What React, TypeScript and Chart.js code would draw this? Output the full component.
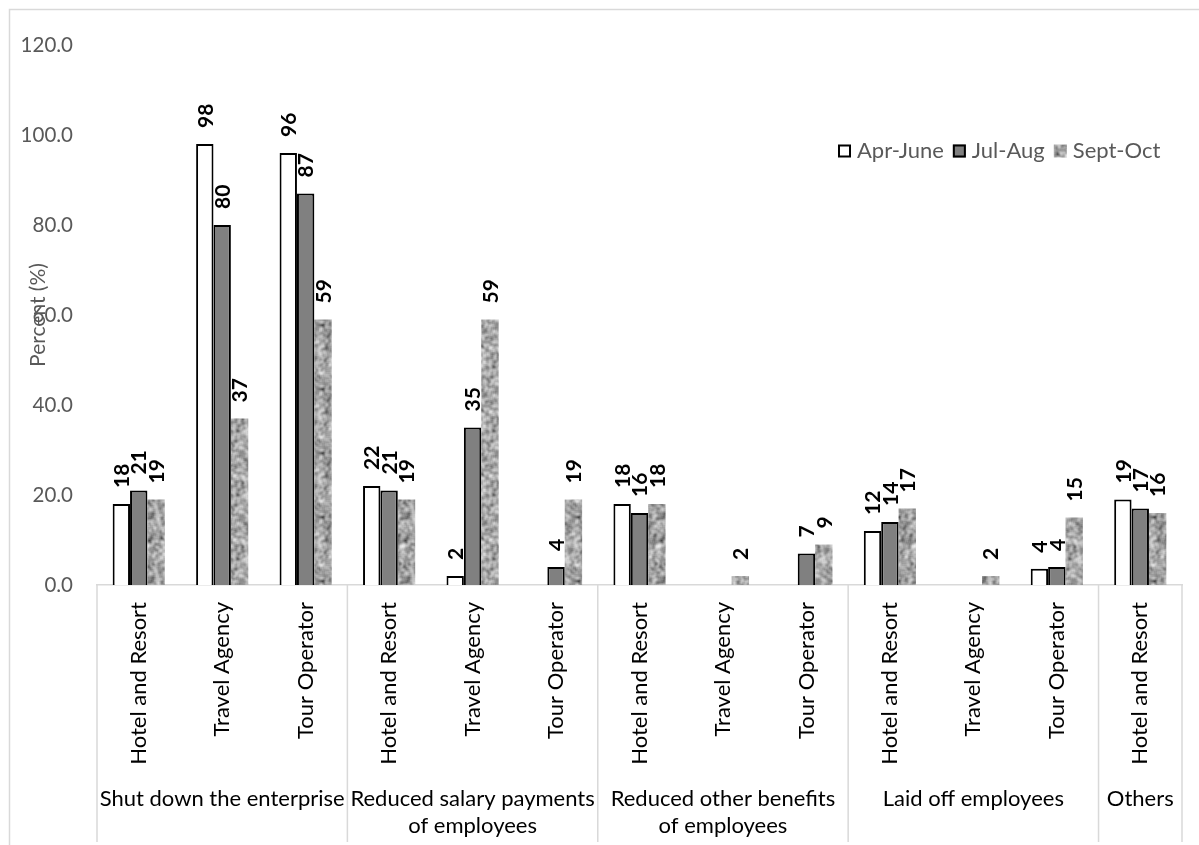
import React, { useEffect, useRef } from "react";
import { Chart, registerables } from "chart.js";

Chart.register(...registerables);

// Business types along the x axis, one per bar cluster
const subLabels = [
  "Hotel and Resort", "Travel Agency", "Tour Operator",
  "Hotel and Resort", "Travel Agency", "Tour Operator",
  "Hotel and Resort", "Travel Agency", "Tour Operator",
  "Hotel and Resort", "Travel Agency", "Tour Operator",
  "Hotel and Resort",
];

// Coping measure groups (second level of the x axis) and how many clusters each spans
const groupLabels = [
  ["Shut down the enterprise"],
  ["Reduced salary payments", "of employees"],
  ["Reduced other benefits", "of employees"],
  ["Laid off employees"],
  ["Others"],
];
const groupSizes = [3, 3, 3, 3, 1];

const seriesNames = ["Apr-June", "Jul-Aug", "Sept-Oct"];

// Share of enterprises (%) per period
const aprJune = [18, 98, 96, 22, 2, null, 18, null, null, 12, null, 3.6, 19];
const julAug = [21, 80, 87, 21, 35, 4, 16, null, 7, 14, null, 4, 17];
const septOct = [19, 37, 59, 19, 59, 19, 18, 2, 9, 17, 2, 15, 16];

const yMin = 0;
const yMax = 120;
const yStep = 20;

const FONT = "Lato";
const GRAY_TEXT = "#595959";
const RULE = "#d9d9d9";

// Granite-like grey texture used for the third series
function makeGranite(): CanvasPattern | string {
  const size = 64;
  const c = document.createElement("canvas");
  c.width = size;
  c.height = size;
  const ctx = c.getContext("2d");
  if (!ctx) return "#b0b0b0";
  const hash = (x: number, y: number) => {
    let h = (x * 374761393 + y * 668265263) | 0;
    h = Math.imul(h ^ (h >>> 13), 1274126177);
    h = h ^ (h >>> 16);
    return (h >>> 0) / 4294967295;
  };
  let v = new Float32Array(size * size);
  for (let y = 0; y < size; y++)
    for (let x = 0; x < size; x++) v[y * size + x] = hash(x, y);
  for (let pass = 0; pass < 2; pass++) {
    const n = new Float32Array(size * size);
    for (let y = 0; y < size; y++)
      for (let x = 0; x < size; x++) {
        let s = 0;
        for (let dy = -1; dy <= 1; dy++)
          for (let dx = -1; dx <= 1; dx++)
            s += v[((y + dy + size) % size) * size + ((x + dx + size) % size)];
        n[y * size + x] = s / 9;
      }
    v = n;
  }
  let lo = Infinity;
  let hi = -Infinity;
  for (const a of v) {
    lo = Math.min(lo, a);
    hi = Math.max(hi, a);
  }
  const img = ctx.createImageData(size, size);
  for (let i = 0; i < v.length; i++) {
    const t = (v[i] - lo) / (hi - lo);
    const g = Math.round(70 + 165 * Math.pow(t, 0.75));
    img.data[i * 4] = g;
    img.data[i * 4 + 1] = g;
    img.data[i * 4 + 2] = g;
    img.data[i * 4 + 3] = 255;
  }
  ctx.putImageData(img, 0, 0);
  return ctx.createPattern(c, "repeat") || "#b0b0b0";
}

const frame = {
  id: "frame",
  beforeDraw(chart: any) {
    const { ctx } = chart;
    ctx.save();
    ctx.strokeStyle = RULE;
    ctx.lineWidth = 1.5;
    ctx.beginPath();
    ctx.moveTo(9.5, chart.height);
    ctx.lineTo(9.5, 9.5);
    ctx.lineTo(chart.width, 9.5);
    ctx.stroke();
    ctx.restore();
  },
};

const groupAxis = {
  id: "groupAxis",
  afterDraw(chart: any) {
    const { ctx, chartArea } = chart;
    const xs = chart.scales.x;
    const step = (chartArea.right - chartArea.left) / subLabels.length;
    const edge = (i: number) => xs.getPixelForValue(i) - step / 2;
    ctx.save();
    ctx.strokeStyle = RULE;
    ctx.lineWidth = 1.5;
    let idx = 0;
    const bounds = [edge(0)];
    groupSizes.forEach((n) => {
      idx += n;
      bounds.push(edge(idx));
    });
    bounds.forEach((bx) => {
      ctx.beginPath();
      ctx.moveTo(bx, chartArea.bottom);
      ctx.lineTo(bx, 842);
      ctx.stroke();
    });
    ctx.fillStyle = "#000";
    ctx.font = `22px ${FONT}`;
    ctx.textAlign = "center";
    ctx.textBaseline = "alphabetic";
    groupLabels.forEach((lines, g) => {
      const cx = (bounds[g] + bounds[g + 1]) / 2;
      lines.forEach((t, li) => ctx.fillText(t, cx, 806 + li * 27));
    });
    ctx.restore();
  },
};

const valueLabels = {
  id: "valueLabels",
  afterDatasetsDraw(chart: any) {
    const { ctx } = chart;
    ctx.save();
    ctx.fillStyle = "#000";
    ctx.font = `bold 21px ${FONT}`;
    ctx.textAlign = "left";
    ctx.textBaseline = "middle";
    chart.data.datasets.forEach((ds: any, di: number) => {
      const meta = chart.getDatasetMeta(di);
      meta.data.forEach((bar: any, i: number) => {
        const v = ds.data[i];
        if (v == null) return;
        ctx.save();
        ctx.translate(bar.x + 1, bar.y - 16);
        ctx.rotate(-Math.PI / 2);
        ctx.fillText(String(Math.round(v)), 0, 0);
        ctx.restore();
      });
    });
    ctx.restore();
  },
};

const insideLegend = {
  id: "insideLegend",
  afterDraw(chart: any) {
    const { ctx } = chart;
    ctx.save();
    ctx.font = `22px ${FONT}`;
    ctx.textBaseline = "middle";
    ctx.textAlign = "left";
    let x = 838;
    const cy = 151;
    chart.data.datasets.forEach((ds: any) => {
      const box = 13;
      ctx.fillStyle = ds.backgroundColor;
      ctx.fillRect(x, cy - box / 2, box, box);
      if (ds.borderWidth) {
        ctx.strokeStyle = ds.borderColor;
        ctx.lineWidth = 2;
        ctx.strokeRect(x + 1, cy - box / 2 + 1, box - 2, box - 2);
      }
      ctx.fillStyle = GRAY_TEXT;
      ctx.fillText(ds.label, x + box + 6, cy);
      x += box + 6 + ctx.measureText(ds.label).width + 9;
    });
    ctx.restore();
  },
};

export default function App() {
  const ref = useRef<HTMLCanvasElement | null>(null);

  useEffect(() => {
    if (!ref.current) return;
    const granite = makeGranite();
    const chart = new Chart(ref.current, {
      type: "bar",
      data: {
        labels: subLabels,
        datasets: [
          {
            label: seriesNames[0],
            data: aprJune,
            backgroundColor: "#ffffff",
            borderColor: "#000000",
            borderWidth: 2,
          },
          {
            label: seriesNames[1],
            data: julAug,
            backgroundColor: "#808080",
            borderColor: "#000000",
            borderWidth: 2,
          },
          {
            label: seriesNames[2],
            data: septOct,
            backgroundColor: granite as any,
            borderWidth: 0,
          },
        ],
      },
      options: {
        responsive: false,
        animation: false,
        events: [],
        datasets: { bar: { categoryPercentage: 0.625, barPercentage: 1 } },
        layout: { padding: { top: 45, right: 17, bottom: 0, left: 0 } },
        plugins: { legend: { display: false }, tooltip: { enabled: false } },
        scales: {
          x: {
            grid: { display: false, drawTicks: false },
            border: { display: true, color: RULE, width: 1.5 },
            ticks: {
              autoSkip: false,
              minRotation: 90,
              maxRotation: 90,
              padding: 17,
              color: "#000",
              font: { family: FONT, size: 22 },
            },
            afterFit: (s: any) => {
              s.height = 260;
            },
          },
          y: {
            min: yMin,
            max: yMax,
            grid: { display: false, drawTicks: false },
            border: { display: false },
            ticks: {
              stepSize: yStep,
              padding: 24,
              color: GRAY_TEXT,
              font: { family: FONT, size: 20.5 },
              callback: (v: any) => Number(v).toFixed(1),
            },
            title: {
              display: true,
              text: "Percent (%)",
              color: GRAY_TEXT,
              font: { family: FONT, size: 21 },
              padding: { top: 26, bottom: 0 },
            },
            afterFit: (s: any) => {
              s.width = 97;
            },
          },
        },
      },
      plugins: [frame, groupAxis, valueLabels, insideLegend],
    });
    return () => chart.destroy();
  }, []);

  return (
    <div style={{ position: "absolute", left: 0, top: 0, width: 1199, height: 845, background: "#fff" }}>
      <canvas ref={ref} width={1199} height={845} />
    </div>
  );
}
